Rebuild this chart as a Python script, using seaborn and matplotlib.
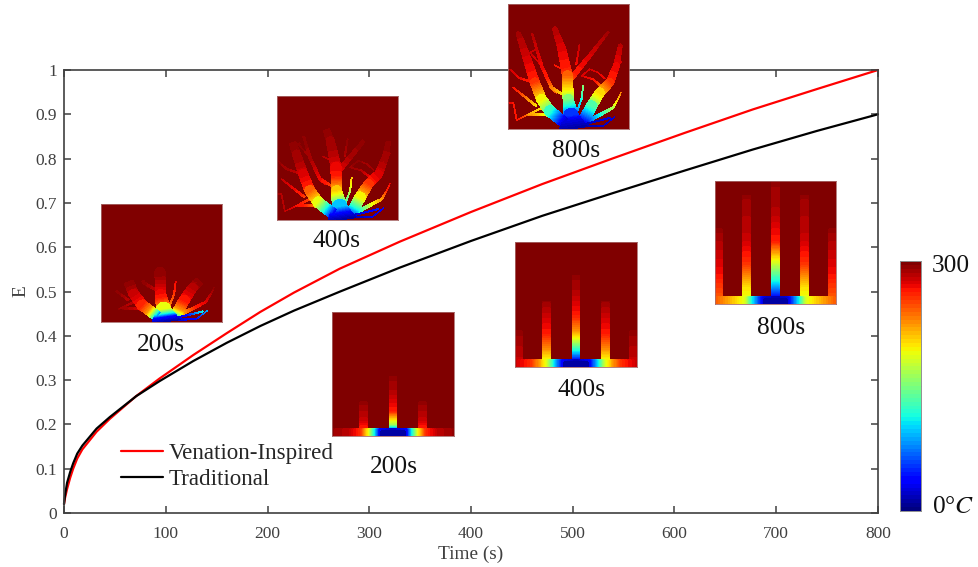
import numpy as np
import pandas as pd
import seaborn as sns
import matplotlib.pyplot as plt

W, H = 979, 567

# curves
time_s = [0, 1, 3, 6, 9, 13, 18, 32, 45, 71, 94, 127, 160, 193, 226, 271, 330, 400, 470, 540, 610, 677, 740, 800]
venation = [.02, .034, .054, .079, .100, .123, .1435, .1835, .2125, .264, .3037, .3565, .406, .454, .4975, .5515,
            .6125, .6795, .7425, .801, .858, .911, .957, 1.0]
traditional = [.02, .04, .068, .092, .112, .134, .152, .1905, .2165, .2638, .2978, .343, .3842, .4222, .4568, .4996,
               .5539, .6141, .6708, .7225, .773, .8205, .8625, .90]

x_ticks = [0, 100, 200, 300, 400, 500, 600, 700, 800]
y_ticks = [0, .1, .2, .3, .4, .5, .6, .7, .8, .9, 1]
y_tick_labels = ['0', '0.1', '0.2', '0.3', '0.4', '0.5', '0.6', '0.7', '0.8', '0.9', '1']

# leaf network: (x, y, width, distance from the cold spot), inset units 364 x 372
tree = [
    [(196, 0, 90, 0), (190, 40, 46, 40), (181, 88, 32, 88), (179, 158, 32, 158), (162, 238, 26, 238), (141, 298, 15, 300)],
    [(181, 140, 18, 150), (246, 218, 13, 250), (301, 288, 8, 330)],
    [(171, 18, 34, 20), (126, 53, 34, 75), (101, 88, 32, 115), (81, 138, 30, 170), (61, 198, 26, 235), (41, 258, 20, 300), (31, 283, 15, 330)],
    [(181, 93, 7, 105), (131, 123, 10, 150), (101, 188, 10, 220), (73, 283, 6, 300)],
    [(221, 13, 34, 20), (251, 68, 34, 80), (276, 108, 30, 125), (306, 138, 26, 170), (326, 188, 20, 225), (338, 248, 13, 285)],
    [(226, 16, 14, 30), (316, 63, 8, 100), (336, 98, 4, 140), (340, 110, 3, 150)],
    [(226, 8, 5, 5), (286, 8, 4, 15), (321, 36, 4, 22)],
    [(226, 13, 6, 8), (306, 33, 5, 25)],
    [(201, 33, 6, 45), (221, 88, 5, 70), (226, 128, 4, 90)],
    [(161, 28, 7, 45), (106, 43, 6, 115), (61, 43, 5, 150), (26, 26, 4, 190)],
    [(100, 62, 7, 120), (61, 43, 5, 140)],
    [(86, 68, 8, 120), (16, 123, 5, 190)],
    [(2, 78, 4, 220), (16, 78, 4, 200), (26, 28, 4, 190)],
    [(76, 138, 7, 170), (31, 153, 6, 220), (6, 178, 4, 260)],
    [(131, 123, 8, 150), (146, 108, 6, 160)],
    [(101, 188, 4, 220), (66, 228, 4, 270), (86, 238, 4, 280)],
    [(286, 123, 8, 140), (256, 148, 5, 200), (221, 158, 4, 240), (246, 178, 4, 250), (271, 168, 4, 230), (291, 150, 4, 215)],
    [(321, 173, 5, 205), (340, 200, 4, 240)],
    [(181, 170, 6, 170), (140, 190, 4, 200)],
    [(205, 190, 5, 200), (215, 250, 4, 280)],
]

# temperature against distance along the network
tree_dist = {
    200: [0, 15, 25, 40, 50, 75, 140, 165, 180],
    400: [0, 20, 45, 75, 100, 130, 200, 260, 300],
    800: [0, 28, 68, 108, 143, 178, 300, 420, 500],
}
tree_temp = {
    200: [10, 40, 112, 188, 225, 262, 290, 297, 300],
    400: [10, 35, 112, 188, 225, 262, 285, 293, 300],
    800: [10, 30, 112, 188, 225, 262, 285, 293, 300],
}

# straight channels: temperature along base, centre, side and edge channels
base_d = {
    200: [0, 40, 55, 72, 95, 130, 182],
    400: [0, 40, 60, 85, 110, 135, 182],
    800: [0, 35, 50, 70, 90, 120, 150, 182],
}
base_t = {
    200: [20, 35, 112, 188, 255, 282, 292],
    400: [15, 35, 90, 180, 225, 258, 280],
    800: [15, 25, 60, 112, 185, 205, 225, 245],
}
centre_h = {200: [20, 33, 43, 73, 133, 178], 400: [20, 47, 82, 105, 150, 220, 272], 800: [20, 68, 128, 188, 280, 372]}
centre_t = {200: [65, 165, 188, 262, 285, 293], 400: [40, 112, 188, 225, 262, 285, 293], 800: [35, 112, 188, 262, 285, 292]}
side_h = {200: [20, 50, 103], 400: [20, 50, 95, 195], 800: [20, 48, 118, 200, 330]}
side_t = {200: [260, 280, 293], 400: [190, 225, 262, 292], 800: [190, 200, 255, 280, 292]}
edge_h = {200: [20, 20], 400: [20, 107], 800: [20, 100, 228]}
edge_t = {200: [300, 300], 400: [280, 293], 800: [245, 270, 293]}

bar_levels = 64
ss = 3


def grid(nx, ny):
    xs = (np.arange(nx * ss) + .5) / (nx * ss) * 364
    ys = (np.arange(ny * ss) + .5) / (ny * ss) * 372
    return np.meshgrid(xs, ys)


def shrink(f, nx, ny):
    # fine grid down to pixels, low quantile so thin lines keep their colour
    f = np.quantile(f.reshape(ny, ss, nx, ss), .3, axis=(1, 3), method='lower')
    return f[::-1]


def tree_field(t, nx, ny):
    X, Y = grid(nx, ny)
    f = np.full(X.shape, 300.0)
    for br in tree:
        for i, (a, b) in enumerate(zip(br[:-1], br[1:])):
            dx, dy = b[0] - a[0], b[1] - a[1]
            raw = ((X - a[0]) * dx + (Y - a[1]) * dy) / (dx * dx + dy * dy)
            u = np.clip(raw, 0, 1)
            d = np.hypot(X - a[0] - u * dx, Y - a[1] - u * dy)
            inside = d <= (a[2] + u * (b[2] - a[2])) / 2
            if i == 0:
                inside &= raw >= 0  # flat start, no round blob at the root
            temp = np.interp(a[3] + u * (b[3] - a[3]), tree_dist[t], tree_temp[t])
            f[inside] = np.minimum(f[inside], temp[inside])
    return shrink(f, nx, ny)


def channel_field(t, nx, ny):
    X, Y = grid(nx, ny)
    f = np.full(X.shape, 300.0)
    r = np.abs(X - 182)
    for cx, hs, ts in [(0, centre_h, centre_t), (88, side_h, side_t), (171, edge_h, edge_t)]:
        m = (np.abs(r - cx) < 12) & (Y >= 20) & (Y <= hs[t][-1])
        f[m] = np.interp(Y[m], hs[t], ts[t])
    m = Y < 22
    f[m] = np.interp(r[m], base_d[t], base_t[t])
    f[(Y < 16) & (r < 37)] = 12
    return shrink(f, nx, ny)


sns.set_theme(style="ticks")
plt.rcParams['font.family'] = ['Liberation Serif', 'DejaVu Sans']
plt.rcParams['mathtext.fontset'] = 'stix'
jet = plt.get_cmap('jet', bar_levels)
ink = '#404040'


def add_axes_px(fig, x0, y0, x1, y1, **kw):
    return fig.add_axes([x0 / W, 1 - y1 / H, (x1 - x0) / W, (y1 - y0) / H], **kw)


fig = plt.figure(figsize=(W / 100, H / 100), dpi=100)
ax = add_axes_px(fig, 64, 70, 878, 513)

df = pd.DataFrame({'t': time_s, 'Venation-Inspired': venation, 'Traditional': traditional})
df = df.melt('t', var_name='kind', value_name='E')
sns.lineplot(data=df, x='t', y='E', hue='kind', palette={'Venation-Inspired': '#ff0000', 'Traditional': '#000000'},
             linewidth=1.6, errorbar=None, ax=ax, clip_on=False)

ax.set_xlim(0, 800)
ax.set_ylim(0, 1)
ax.set_xticks(x_ticks)
ax.set_yticks(y_ticks)
ax.set_yticklabels(y_tick_labels)
ax.tick_params(direction='in', length=5, width=1.1, color=ink, labelcolor=ink, labelsize=12.5, top=True, right=True)
ax.tick_params(axis='x', pad=9)
ax.tick_params(axis='y', pad=5)
for s in ax.spines.values():
    s.set_visible(True)
    s.set_color(ink)
    s.set_linewidth(1.2)
ax.set_xlabel('Time (s)', fontsize=13.9, color=ink, labelpad=3)
ax.set_ylabel('E', fontsize=13.9, color=ink, labelpad=4)
leg = ax.legend(loc='lower left', bbox_to_anchor=(.062, .036), frameon=False, fontsize=16.6, handlelength=1.8,
                handletextpad=.24, labelspacing=.2, borderpad=.3, borderaxespad=0)
leg.set_zorder(10)

# (field function, time, box in pixels, label centre x, label centre y)
insets = [
    (tree_field, 200, (100.5, 204, 222, 322), 161, 345),
    (tree_field, 400, (276.5, 95.5, 398, 220), 337, 241),
    (tree_field, 800, (508, 4, 629, 129), 576, 151),
    (channel_field, 200, (332, 312, 454, 436), 394, 467),
    (channel_field, 400, (515, 241.5, 637, 367), 582, 390),
    (channel_field, 800, (715, 181, 836, 304), 781, 328),
]
for func, t, box, lx, ly in insets:
    nx, ny = int(round(box[2] - box[0])), int(round(box[3] - box[1]))
    a = add_axes_px(fig, *box)
    sns.heatmap(func(t, nx, ny), cmap=jet, vmin=0, vmax=300, cbar=False, xticklabels=False, yticklabels=False,
                rasterized=True, ax=a)
    for s in a.spines.values():
        s.set_visible(True)
        s.set_color('#a86a6a')
        s.set_linewidth(.6)
    fig.text(lx / W, 1 - ly / H, f'{t}s', fontsize=18.3, color='#111111', ha='center', va='center')

# colour bar
cb = add_axes_px(fig, 900, 261, 921, 511)
bar = np.linspace(300, 0, bar_levels).reshape(-1, 1)
sns.heatmap(bar, cmap=jet, vmin=0, vmax=300, cbar=False, xticklabels=False, ax=cb)
cb.set_yticks([bar_levels * k / 6 for k in range(1, 6)])
cb.set_yticklabels([])
cb.tick_params(left=False, right=True, direction='in', length=2.5, width=.8, color=ink)
for s in cb.spines.values():
    s.set_visible(True)
    s.set_color('#909090')
    s.set_linewidth(.7)
fig.text(950.5 / W, 1 - 266 / H, '300', fontsize=18.3, color='#111111', ha='center', va='center')
fig.text(953.5 / W, 1 - 507 / H, r'0°$C$', fontsize=18.3, color='#111111', ha='center', va='center')

fig.savefig('out.png', dpi=100)
